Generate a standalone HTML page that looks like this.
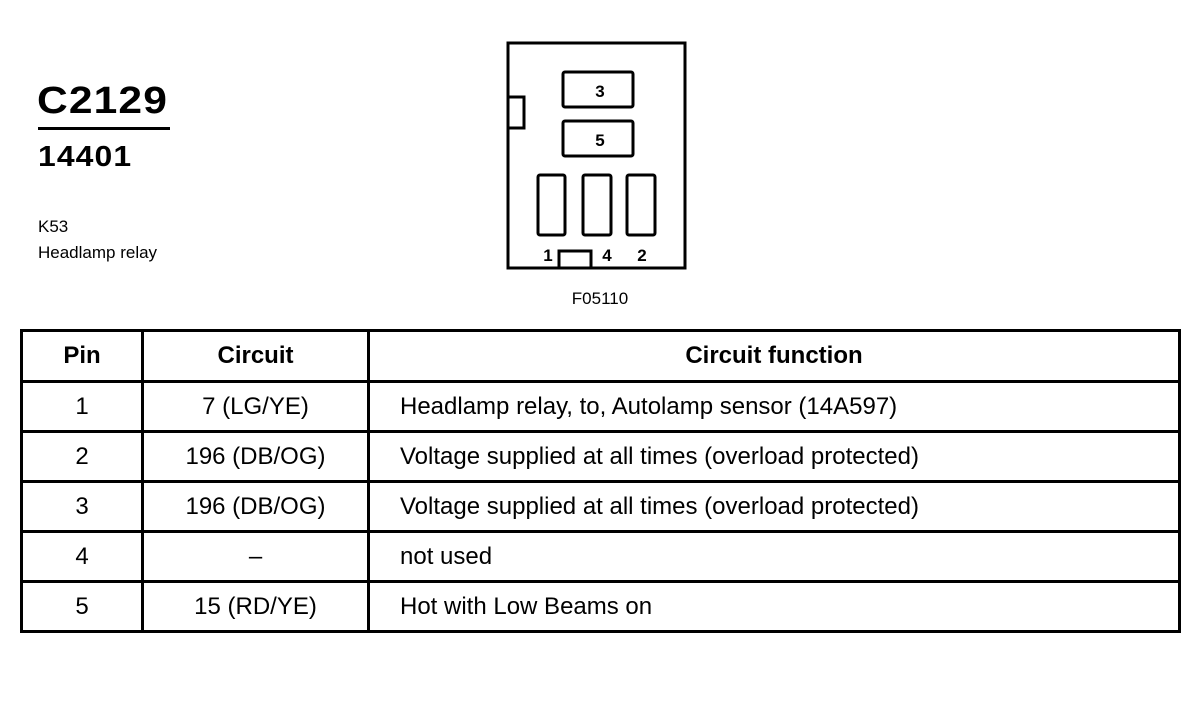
<!DOCTYPE html>
<html><head><style>
body{margin:0;width:1200px;height:705px;background:#fff;font-family:"Liberation Sans",Arial,sans-serif;color:#000;position:relative;overflow:hidden}
.a{position:absolute;white-space:nowrap}
table{position:absolute;left:20px;top:329px;border-collapse:collapse;width:1161px}
td,th{border:3px solid #000;font-size:24px;padding:0}
th{height:48px;font-weight:bold;text-align:center}
td{height:47px;text-align:center}
td.f{text-align:left;padding-left:30px}
</style></head><body>
<div class="a" style="left:37px;top:80px;font-size:38px;font-weight:bold;letter-spacing:1px;transform:scaleX(1.12);transform-origin:left">C2129</div>
<div class="a" style="left:38px;top:127px;width:132px;height:3px;background:#000"></div>
<div class="a" style="left:38px;top:141px;font-size:29px;font-weight:bold;letter-spacing:1px;transform:scaleX(1.1);transform-origin:left">14401</div>
<div class="a" style="left:38px;top:217px;font-size:17px">K53</div>
<div class="a" style="left:38px;top:243px;font-size:17px">Headlamp relay</div>
<svg class="a" style="left:0;top:0" width="1200" height="320">
<g fill="none" stroke="#000" stroke-width="3">
<rect x="508" y="43" width="177" height="225"/>
<rect x="508" y="97" width="16" height="31" fill="#fff"/>
<rect x="563" y="72" width="70" height="35" rx="2"/>
<rect x="563" y="121" width="70" height="35" rx="2"/>
<rect x="538" y="175" width="27" height="60" rx="2"/>
<rect x="583" y="175" width="28" height="60" rx="2"/>
<rect x="627" y="175" width="28" height="60" rx="2"/>
<rect x="559" y="251" width="32" height="17" fill="#fff"/>
</g>
<g font-family="Liberation Sans,Arial,sans-serif" font-size="17" font-weight="bold" text-anchor="middle">
<text x="600" y="97">3</text><text x="600" y="146">5</text>
<text x="548" y="261">1</text><text x="607" y="261">4</text><text x="642" y="261">2</text>
</g>
<text x="600" y="304" font-family="Liberation Sans,Arial,sans-serif" font-size="17" text-anchor="middle">F05110</text>
</svg>
<table>
<tr><th style="width:118px">Pin</th><th style="width:223px">Circuit</th><th>Circuit function</th></tr>
<tr><td>1</td><td>7 (LG/YE)</td><td class="f">Headlamp relay, to, Autolamp sensor (14A597)</td></tr>
<tr><td>2</td><td>196 (DB/OG)</td><td class="f">Voltage supplied at all times (overload protected)</td></tr>
<tr><td>3</td><td>196 (DB/OG)</td><td class="f">Voltage supplied at all times (overload protected)</td></tr>
<tr><td>4</td><td>–</td><td class="f">not used</td></tr>
<tr><td>5</td><td>15 (RD/YE)</td><td class="f">Hot with Low Beams on</td></tr>
</table>
</body></html>
